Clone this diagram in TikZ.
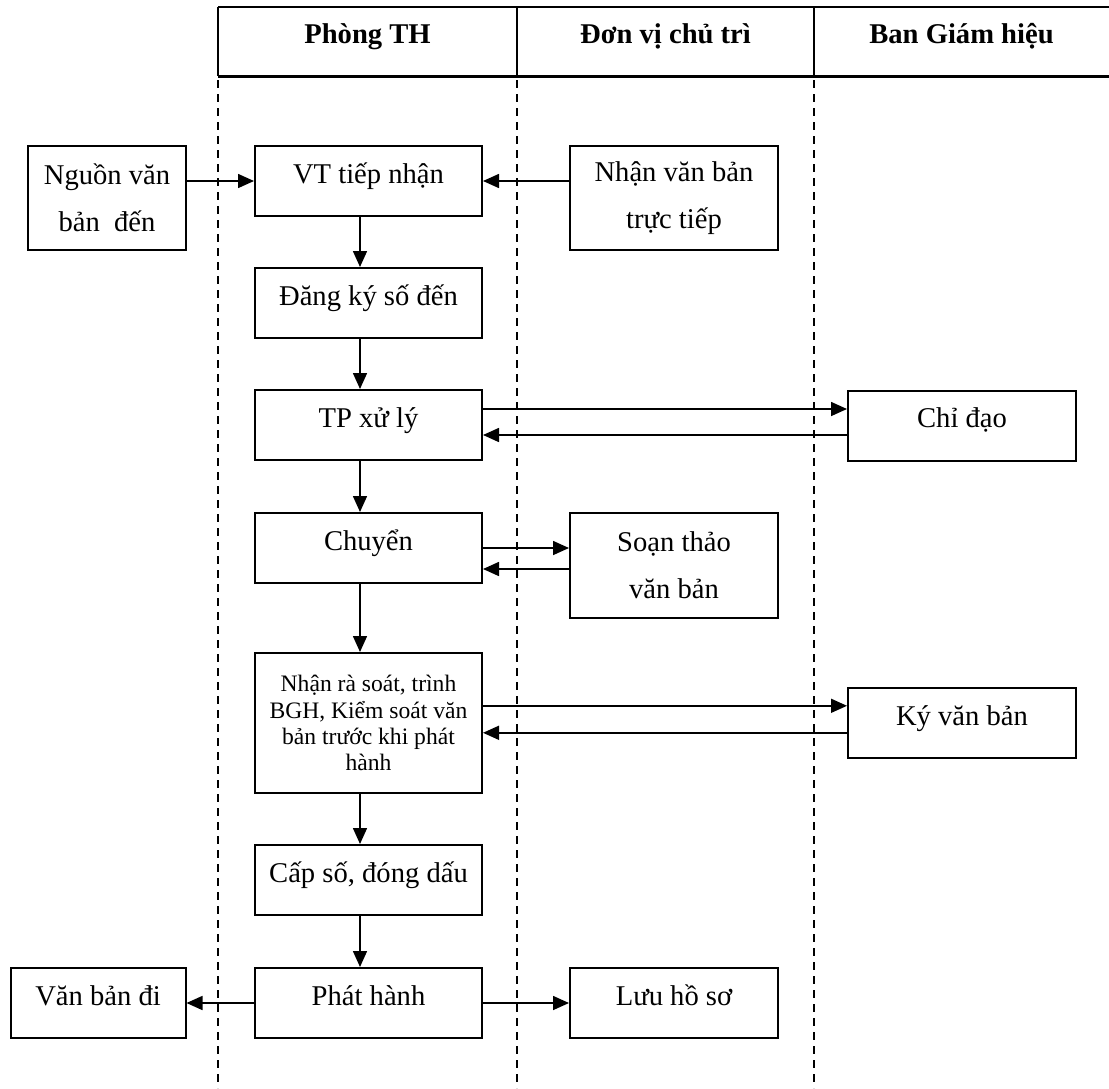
\documentclass[tikz,border=0pt]{standalone}
\usepackage{fontspec}
\setmainfont{Liberation Serif}
\usepackage{tikz}
\usetikzlibrary{arrows.meta,calc,positioning}

\begin{document}
\begin{tikzpicture}[x=0.5pt,y=-0.5pt]
      \tikzstyle{every edge}=[draw]
      \tikzstyle{proc}=[draw,line width=1pt,minimum width=113.5pt,minimum height=35pt,inner sep=2pt,
        text height=11pt,text depth=9pt,font=\fontsize{14.3}{23.5}\selectfont]
      \tikzstyle{proc2}=[draw,line width=1pt,align=center,inner sep=2pt,font=\fontsize{14.3}{23.5}\selectfont]
      \tikzstyle{head}=[anchor=base,font=\fontsize{14.3}{17}\selectfont\bfseries]
      \tikzstyle{lane}=[line width=0.7pt,dash pattern=on 4pt off 3pt]
      \tikzstyle{flow}=[->,>={Triangle[length=8pt,width=7pt]},line width=0.8pt]
      \useasboundingbox (0,0) rectangle (1109,1088);
      % header
      \draw[line width=1pt] (218,7) -- (1109,7);
      \draw[line width=1.5pt] (218,76) -- (1109,76);
      \foreach \x in {218,517,814} \draw[line width=1pt] (\x,7) -- (\x,76);
      \node[head] (H1) at (367.5,43) {Phòng TH};
      \node[head] (H2) at (665.5,43) {Đơn vị chủ trì};
      \node[head] (H3) at (961.5,43) {Ban Giám hiệu};
      % lanes
      \foreach \x in {218,517,814} \draw[lane] (\x,80) -- (\x,1088);
      % main column
      \node[proc] (VT) at (368.5,181) {VT tiếp nhận};
      \node[proc] (DK) at (368.5,303) {Đăng ký số đến};
      \node[proc] (TP) at (368.5,425) {TP xử lý};
      \node[proc] (CH) at (368.5,548) {Chuyển};
      \node[proc2,minimum width=113.5pt,minimum height=70pt,font=\fontsize{11.8}{13.1}\selectfont] (KS) at (368.5,723)
        {Nhận rà soát, trình\\BGH, Kiểm soát văn\\bản trước khi phát\\hành};
      \node[proc] (CS) at (368.5,880) {Cấp số, đóng dấu};
      \node[proc] (PH) at (368.5,1003) {Phát hành};
      % side boxes
      \node[proc2,minimum width=79pt,minimum height=52pt] (NG) at (107,198) {Nguồn văn\\bản\ \ đến};
      \node[proc2,minimum width=104pt,minimum height=52pt] (NT) at (674,198) {Nhận văn bản\\trực tiếp};
      \node[proc,minimum width=114pt] (CD) at (962,425.5) {Chỉ đạo};
      \node[proc2,minimum width=104pt,minimum height=52.5pt] (ST) at (674,565.5) {Soạn thảo\\văn bản};
      \node[proc,minimum width=114pt] (KY) at (962,723) {Ký văn bản};
      \node[proc,minimum width=87.5pt] (VD) at (98,1003) {Văn bản đi};
      \node[proc,minimum width=104pt] (LH) at (674,1003) {Lưu hồ sơ};
      % down the column
      \draw[flow] ([xshift=-4.25pt]VT.south) -- ([xshift=-4.25pt]DK.north);
      \draw[flow] ([xshift=-4.25pt]DK.south) -- ([xshift=-4.25pt]TP.north);
      \draw[flow] ([xshift=-4.25pt]TP.south) -- ([xshift=-4.25pt]CH.north);
      \draw[flow] ([xshift=-4.25pt]CH.south) -- ([xshift=-4.25pt]KS.north);
      \draw[flow] ([xshift=-4.25pt]KS.south) -- ([xshift=-4.25pt]CS.north);
      \draw[flow] ([xshift=-4.25pt]CS.south) -- ([xshift=-4.25pt]PH.north);
      % side flows
      \draw[flow] (NG.east |- VT.west) -- (VT.west);
      \draw[flow] (NT.west |- VT.east) -- (VT.east);
      \draw[flow] ([yshift=8pt]TP.east) -- ([yshift=8pt]TP.east -| CD.west);
      \draw[flow] ([yshift=-5pt]TP.east -| CD.west) -- ([yshift=-5pt]TP.east);
      \draw[flow] (CH.east) -- (CH.east -| ST.west);
      \draw[flow] ([yshift=-10.5pt]CH.east -| ST.west) -- ([yshift=-10.5pt]CH.east);
      \draw[flow] ([yshift=8.6pt]KS.east) -- ([yshift=8.6pt]KS.east -| KY.west);
      \draw[flow] ([yshift=-4.9pt]KS.east -| KY.west) -- ([yshift=-4.9pt]KS.east);
      \draw[flow] (PH.west) -- (PH.west -| VD.east);
      \draw[flow] (PH.east) -- (PH.east -| LH.west);
\end{tikzpicture}
\end{document}
